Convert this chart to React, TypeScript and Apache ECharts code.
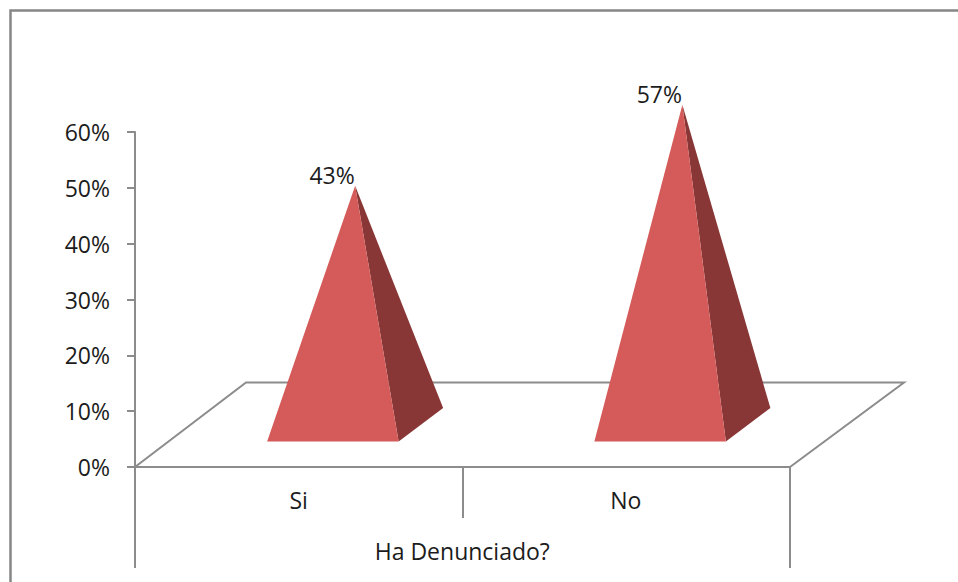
import React, { useEffect, useRef } from "react";
import * as echarts from "echarts";

const categories = ["Si", "No"];
const shares = [0.43, 0.57];
const axisTitle = "Ha Denunciado?";

const FONT = "'Open Sans', sans-serif";
const GREY = "#8c8c8c";
const FRONT = "#d45b59";
const SIDE = "#883736";
const TEXT = "#1c1c1c";
const TEXT_SIZE = 23;

export default function App() {
  const ref = useRef<HTMLDivElement>(null);
  useEffect(() => {
    document.body.style.margin = "0";
    const chart = echarts.init(ref.current!, null, { renderer: "svg" });
    const line = (x1: number, y1: number, x2: number, y2: number, width = 2) => ({
      type: "line",
      shape: { x1, y1, x2, y2 },
      style: { stroke: GREY, lineWidth: width },
    });
    chart.setOption({
      animation: false,
      backgroundColor: "#ffffff",
      graphic: [
        {
          type: "polyline",
          shape: { points: [[10.5, 590], [10.5, 10.5], [970, 10.5]] },
          style: { stroke: "#868686", lineWidth: 2.5, fill: "none" },
        },
        {
          type: "polyline",
          shape: { points: [[135, 467], [246, 382.5], [904, 382.5], [790, 467]] },
          style: { stroke: GREY, lineWidth: 2, fill: "none" },
        },
        line(135, 466, 135, 568),
        line(790, 466, 790, 568),
      ],
      grid: { left: 135, top: 132, width: 654.5, height: 335, containLabel: false },
      xAxis: {
        type: "category",
        data: categories,
        name: axisTitle,
        nameLocation: "middle",
        nameGap: 72,
        nameTextStyle: { fontFamily: FONT, fontSize: TEXT_SIZE, color: TEXT },
        axisLine: { lineStyle: { color: GREY, width: 2 } },
        axisTick: { show: true, length: 51, lineStyle: { color: GREY, width: 2 } },
        axisLabel: { fontFamily: FONT, fontSize: TEXT_SIZE, color: TEXT, margin: 21 },
        splitLine: { show: false },
      },
      yAxis: {
        type: "value",
        min: 0,
        max: 0.6,
        interval: 0.1,
        axisLine: { show: true, lineStyle: { color: GREY, width: 2 } },
        axisTick: { show: true, length: 8, lineStyle: { color: GREY, width: 2 } },
        axisLabel: {
          fontFamily: FONT,
          fontSize: TEXT_SIZE,
          color: TEXT,
          margin: 25,
          formatter: (v: number) => `${Math.round(v * 100)}%`,
        },
        splitLine: { show: false },
      },
      series: [
        {
          type: "custom",
          data: shares.map((v, i) => [i, v]),
          encode: { x: 0, y: 1 },
          clip: false,
          renderItem: (_params: any, api: any) => {
            const value = api.value(1) as number;
            const [cx, top] = api.coord([api.value(0), value]);
            const [, zero] = api.coord([api.value(0), 0]);
            const frontY = zero - 25.5;
            const backY = zero - 59;
            const fl = [cx - 31.5, frontY];
            const fr = [cx + 100, frontY];
            const br = [cx + 144.5, backY];
            const apex = [cx + 56.5, zero - 32 - 1.038 * (zero - top)];
            return {
              type: "group",
              children: [
                { type: "polygon", shape: { points: [apex, fr, br] }, style: { fill: SIDE } },
                { type: "polygon", shape: { points: [apex, fl, fr] }, style: { fill: FRONT } },
                {
                  type: "text",
                  style: {
                    text: `${Math.round(value * 100)}%`,
                    x: apex[0] - 23,
                    y: apex[1] - 10.5,
                    align: "center",
                    verticalAlign: "middle",
                    fontFamily: FONT,
                    fontSize: TEXT_SIZE,
                    fill: TEXT,
                  },
                },
              ],
            };
          },
        },
      ],
    });
    return () => chart.dispose();
  }, []);
  return <div ref={ref} style={{ position: "absolute", left: 0, top: 0, width: 958, height: 582 }} />;
}
